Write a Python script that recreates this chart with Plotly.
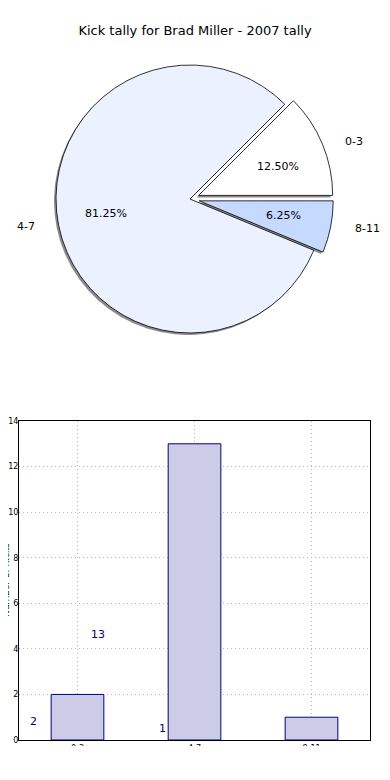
import math
import plotly.graph_objects as go

# ---- data ----
title_text = "Kick tally for Brad Miller - 2007 tally"
categories = ["0-3", "4-7", "8-11"]
kick_counts = [2, 13, 1]
pie_colors = ["#ffffff", "#ebf1fe", "#c6d9ff"]
explode = [0.07, 0.0, 0.07]
y_ticks = [0, 2, 4, 6, 8, 10, 12, 14]
y_title = "Number of Kicks"

# the page body has an 8px margin: the figure is placed at (8, 8) in the window
OFF = 8
W, H = 390 - 2 * OFF, 780 - 2 * OFF
total = sum(kick_counts)


def px(x):  # window pixel x -> paper fraction
    return (x - OFF) / W


def py(y):  # window pixel y (from top) -> paper fraction
    return 1 - (y - OFF) / H


# pie geometry (window pixels)
cx_px, cy_px, r_px = 190, 199, 134
maxpull = max(explode)
half_box = r_px * (1 + maxpull)
# plotly counterclockwise pies end the first slice at `rotation`; start it at 3 o'clock
pie_rotation = 90 - 360.0 * kick_counts[0] / total


def pie_domain(dx=0, dy=0):
    return dict(
        x=[px(cx_px + dx - half_box), px(cx_px + dx + half_box)],
        y=[py(cy_px + dy + half_box), py(cy_px + dy - half_box)],
    )


fig = go.Figure()

# shadow pie
fig.add_trace(go.Pie(
    labels=categories, values=kick_counts, sort=False,
    direction="counterclockwise", rotation=pie_rotation, pull=explode,
    marker=dict(colors=["#8c8c8c"] * len(categories), line=dict(width=0)),
    textinfo="none", hoverinfo="skip", showlegend=False,
    domain=pie_domain(-2, 2),
))
# main pie
fig.add_trace(go.Pie(
    labels=categories, values=kick_counts, sort=False,
    direction="counterclockwise", rotation=pie_rotation, pull=explode,
    marker=dict(colors=pie_colors, line=dict(color="#000000", width=0.8)),
    textinfo="none", showlegend=False,
    domain=pie_domain(),
))

# invisible helper axis for pie labels (matplotlib-like label placement)
rx_px, ry_px = 142, 127.5
ext = 1.2
fig.add_trace(go.Scatter(x=[], y=[], xaxis="x2", yaxis="y2", showlegend=False))

annotations = []
angle = 0.0
for lab, v, e in zip(categories, kick_counts, explode):
    span = 360.0 * v / total
    mid = math.radians(angle + span / 2)
    c, s = math.cos(mid), math.sin(mid)
    annotations.append(dict(
        x=(e + 1.1) * c, y=(e + 1.1) * s, xref="x2", yref="y2",
        text=lab, showarrow=False, xanchor="left" if c > 0 else "right",
        yanchor="middle", font=dict(size=11, color="#000000"),
    ))
    annotations.append(dict(
        x=(e + 0.6) * c, y=(e + 0.6) * s, xref="x2", yref="y2",
        text="%.2f%%" % (100.0 * v / total), showarrow=False,
        xanchor="center", yanchor="middle", font=dict(size=11, color="#000000"),
    ))
    angle += span

# ---- bar chart ----
fig.add_trace(go.Bar(
    x=categories, y=kick_counts, width=0.45,
    marker=dict(color="#ccccE6", line=dict(color="#000080", width=1)),
    showlegend=False, xaxis="x", yaxis="y",
))

# misplaced value labels as in the original
for i, v in enumerate(kick_counts):
    annotations.append(dict(
        x=-0.376 + 0.55 * i, y=0.347 * v + 0.136, xref="x", yref="y",
        text=str(v), showarrow=False, xanchor="center", yanchor="middle",
        font=dict(size=11, color="#000080"),
    ))

# y-axis title (mostly cut off at the left edge, as in the original)
annotations.append(dict(
    x=0, xref="paper", xshift=-2, y=py(580), yref="paper",
    text=y_title, textangle=-90, showarrow=False,
    xanchor="center", yanchor="middle", font=dict(size=9, color="#000000"),
))

grid_style = dict(showgrid=True, gridcolor="#b8b8b8", griddash="1px,3px",
                  gridwidth=1)

fig.update_layout(
    width=W, height=H,
    margin=dict(l=0, r=0, t=0, b=0, autoexpand=False),
    paper_bgcolor="#ffffff", plot_bgcolor="#ffffff",
    font=dict(family="DejaVu Sans", color="#000000"),
    title=dict(text=title_text, x=px(195), xanchor="center", y=py(30),
               yanchor="middle", font=dict(size=13, color="#000000")),
    xaxis=dict(
        domain=[px(19), px(370)], anchor="y", range=[-0.5, 2.5],
        type="category", automargin=False,
        showline=True, linecolor="#000000", linewidth=1, mirror=True,
        ticks="", tickfont=dict(size=8, color="#000000"), zeroline=False,
        **grid_style,
    ),
    yaxis=dict(
        domain=[py(740), py(421)], anchor="x", range=[0, 14],
        tickvals=y_ticks, automargin=False, ticklabelstandoff=-2,
        showline=True, linecolor="#000000", linewidth=1, mirror=True,
        ticks="", tickfont=dict(size=8, color="#000000"), zeroline=False,
        **grid_style,
    ),
    xaxis2=dict(
        domain=[px(cx_px - ext * rx_px), px(cx_px + ext * rx_px)],
        range=[-ext, ext], anchor="y2", visible=False, fixedrange=True,
        automargin=False,
    ),
    yaxis2=dict(
        domain=[py(cy_px + ext * ry_px), py(cy_px - ext * ry_px)],
        range=[-ext, ext], anchor="x2", visible=False, fixedrange=True,
        automargin=False,
    ),
    annotations=annotations,
    shapes=[dict(type="rect", xref="paper", yref="paper", x0=0, x1=1,
                 y0=0, y1=py(746), fillcolor="#ffffff",
                 line=dict(width=0), layer="above")],
)

fig.write_html("out.html")
